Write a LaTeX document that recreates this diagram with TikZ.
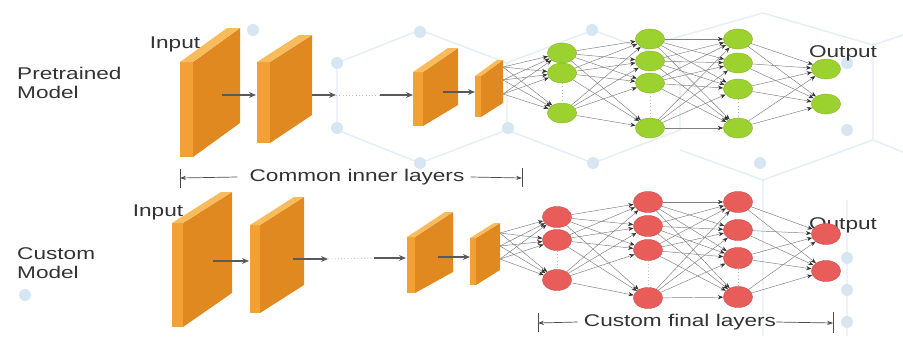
\documentclass[tikz,border=0pt]{standalone}
\usepackage{fontspec}
\setmainfont{Liberation Sans}
\usepackage{graphicx}
\usetikzlibrary{arrows.meta,shapes.geometric}

\definecolor{slabfront}{RGB}{242,162,52}
\definecolor{slabside}{RGB}{224,137,32}
\definecolor{slabtop}{RGB}{249,188,92}
\definecolor{greennode}{RGB}{156,210,48}
\definecolor{rednode}{RGB}{232,92,90}
\definecolor{hexline}{RGB}{228,238,246}
\definecolor{hexdot}{RGB}{214,231,243}

% one conv layer: front strip x1..x2, y3..y4, back edge x5 from y6 to y7
\newcommand{\slab}[7]{%
  \fill[slabside] (#2,#3) -- (#5,#6) -- (#5,#7) -- (#2,#4) -- cycle;
  \fill[slabfront] (#1,#3) rectangle (#2,#4);
  \fill[slabtop] (#1,#3) -- ({#1+#5-#2},#6) -- (#5,#6) -- (#2,#3) -- cycle;}
\newcommand{\lbl}[1]{\scalebox{1.33}[1]{#1}}

\tikzset{
  gneuron/.style={ellipse, fill=greennode, draw=greennode!85!black, line width=0.3pt, minimum width=25pt, minimum height=17pt, inner sep=0pt},
  rneuron/.style={ellipse, fill=rednode, draw=rednode!85!black, line width=0.3pt, minimum width=25pt, minimum height=18pt, inner sep=0pt},
  conn/.style={draw=black!50, line width=0.4pt, -{Stealth[length=4.5pt,width=3.5pt,black!80]}},
  flow/.style={draw=black!65, line width=1pt, -{Stealth[length=6pt,width=5pt]}},
  gap/.style={draw=black!25, dotted, line width=0.8pt},
  brace/.style={draw=black!70, line width=0.6pt},
  txt/.style={font=\fontsize{14.5}{16}\selectfont, text=black!80, inner sep=0pt}
}

\begin{document}
\begin{tikzpicture}[x=0.03cm,y=-0.03cm]
	\useasboundingbox (0,0) rectangle (903,336);
	\fill[white] (0,0) rectangle (903,336);

	% faint honeycomb in the back
	\draw[hexline, line width=1.2pt] (337,63) -- (420,30) -- (507,63) -- (507,130) -- (420,163) -- (337,130) -- cycle;
	\draw[hexline, line width=1.2pt] (507,63) -- (593,30) -- (680,63) -- (680,130) -- (593,163) -- (507,130);
	\draw[hexline, line width=1.2pt] (650,45) -- (763,13) -- (873,45) -- (873,140) -- (763,180) -- (680,150);
	\draw[hexline, line width=1.2pt] (873,45) -- (903,35) (873,140) -- (903,152) (763,180) -- (763,336) (847,200) -- (847,336);
	\foreach \d in {(253,30),(420,32),(592,30),(337,63),(337,128),(508,128),(420,163),(593,163),(760,163),(847,63),(847,130),(847,258),(847,290),(847,322),(25,295)}
		\fill[hexdot] \d circle (6);

	% labels
	\node[txt, anchor=west, align=left] (pre) at (17,83) {\lbl{Pretrained}\\\lbl{Model}};
	\node[txt, anchor=west, align=left] (cus) at (17,263) {\lbl{Custom}\\\lbl{Model}};
	\node[txt] (inT) at (175,44) {\lbl{Input}};
	\node[txt] (inB) at (158,212) {\lbl{Input}};
	\node[txt] (outT) at (843,53) {\lbl{Output}};
	\node[txt] (outB) at (843,225) {\lbl{Output}};

	% conv layers, pretrained
	\slab{180}{193}{62}{157}{240}{28}{123}
	\slab{257}{270}{62}{143}{312}{35}{115}
	\slab{413}{423}{72}{126}{458}{48}{105}
	\slab{475}{481}{76}{117}{503}{60}{103}
	% conv layers, custom
	\slab{172}{183}{223}{327}{232}{192}{293}
	\slab{250}{260}{225}{313}{304}{197}{285}
	\slab{407}{415}{237}{293}{453}{212}{272}
	\slab{470}{476}{238}{285}{500}{223}{270}

	\coordinate (ta1) at (222,95); \coordinate (ta2) at (256,95);
	\coordinate (tb1) at (312,95); \coordinate (tb2) at (336,95);
	\coordinate (tc1) at (380,95); \coordinate (tc2) at (413,95);
	\coordinate (td1) at (443,92); \coordinate (td2) at (475,92);
	\coordinate (ba1) at (213,261); \coordinate (ba2) at (249,261);
	\coordinate (bb1) at (293,259); \coordinate (bb2) at (328,259);
	\coordinate (bc1) at (374,258); \coordinate (bc2) at (406,258);
	\coordinate (bd1) at (438,257); \coordinate (bd2) at (470,257);
	\foreach \p in {t,b}{
		\draw[flow] (\p a1) -- (\p a2);
		\draw[flow] (\p b1) -- (\p b2);
		\draw[gap] (\p b2) -- (\p c1);
		\draw[flow] (\p c1) -- (\p c2);
		\draw[flow] (\p d1) -- (\p d2);
	}

	% dense layers
	\node[gneuron] (g11) at (562,53) {};  \node[gneuron] (g12) at (562,73) {};  \node[gneuron] (g13) at (562,113) {};
	\node[gneuron] (g21) at (650,39) {};  \node[gneuron] (g22) at (650,61) {};  \node[gneuron] (g23) at (650,83) {};  \node[gneuron] (g24) at (650,128) {};
	\node[gneuron] (g31) at (738,39) {};  \node[gneuron] (g32) at (738,63) {};  \node[gneuron] (g33) at (738,89) {};  \node[gneuron] (g34) at (738,128) {};
	\node[gneuron] (g41) at (826,69) {};  \node[gneuron] (g42) at (826,104) {};
	\node[rneuron] (r11) at (557,217) {}; \node[rneuron] (r12) at (557,240) {}; \node[rneuron] (r13) at (557,280) {};
	\node[rneuron] (r21) at (648,202) {}; \node[rneuron] (r22) at (648,226) {}; \node[rneuron] (r23) at (648,250) {}; \node[rneuron] (r24) at (648,298) {};
	\node[rneuron] (r31) at (738,202) {}; \node[rneuron] (r32) at (738,230) {}; \node[rneuron] (r33) at (738,258) {}; \node[rneuron] (r34) at (738,297) {};
	\node[rneuron] (r41) at (826,234) {}; \node[rneuron] (r42) at (826,271) {};

	\coordinate (g01) at (503,67); \coordinate (g02) at (503,80); \coordinate (g03) at (503,94);
	\coordinate (r01) at (500,233); \coordinate (r02) at (500,246); \coordinate (r03) at (500,259);

	\foreach \p in {g,r}{
		\foreach \i in {1,2,3} \foreach \j in {1,2,3} \draw[conn] (\p0\i) -- (\p1\j);
		\foreach \i in {1,2,3} \foreach \j in {1,...,4} \draw[conn] (\p1\i) -- (\p2\j);
		\foreach \i in {1,...,4} \foreach \j in {1,...,4} \draw[conn] (\p2\i) -- (\p3\j);
		\foreach \i in {1,...,4} \foreach \j in {1,2} \draw[conn] (\p3\i) -- (\p4\j);
		\draw[gap] (\p12) -- (\p13);
		\draw[gap] (\p23) -- (\p24);
		\draw[gap] (\p33) -- (\p34);
	}

	% brackets
	\node[txt] (common) at (357,177) {\lbl{Common inner layers}};
	\coordinate (cl) at (180,178); \coordinate (cr) at (522,178);
	\draw[brace] (180,169) -- (180,188) (522,168) -- (522,187);
	\draw[brace, -{Stealth[length=5pt,width=3.5pt]}] (common.west) ++(-12,0) -- (cl);
	\draw[brace, -{Stealth[length=5pt,width=3.5pt]}] (common.east) ++(6,0) -- (cr);
	\node[txt] (final) at (680,322) {\lbl{Custom final layers}};
	\coordinate (fl) at (538,323); \coordinate (fr) at (833,323);
	\draw[brace] (538,313) -- (538,332) (833,312) -- (833,333);
	\draw[brace, -{Stealth[length=5pt,width=3.5pt]}] (final.west) ++(-6,0) -- (fl);
	\draw[brace, -{Stealth[length=5pt,width=3.5pt]}] (final.east) -- (fr);
\end{tikzpicture}
\end{document}
